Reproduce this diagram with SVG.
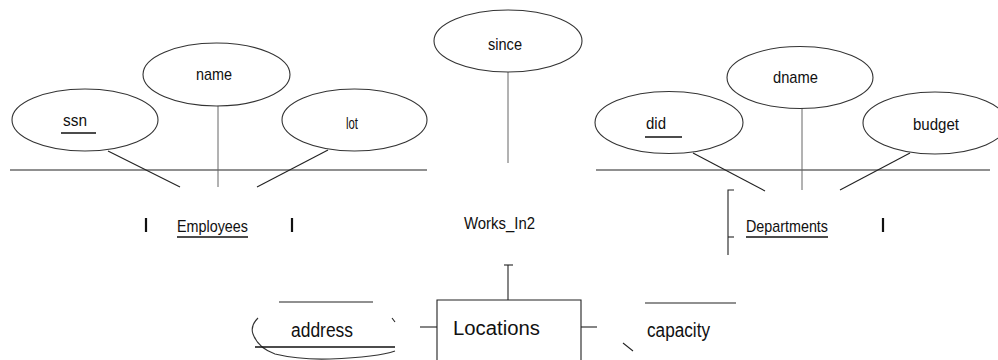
<svg xmlns="http://www.w3.org/2000/svg" width="998" height="360" viewBox="0 0 998 360">
<style>
.attr{fill:none;stroke:#333;stroke-width:1.1}
.t{font-family:"Liberation Sans",Arial,sans-serif;font-size:17px;fill:#111}
.tb{font-family:"Liberation Sans",Arial,sans-serif;font-size:20px;fill:#111}
.ln{stroke:#222;stroke-width:1.1;fill:none}
.lg{stroke:#666;stroke-width:1;fill:none}
.ul{stroke:#111;stroke-width:1.3}
.bar{stroke:#111;stroke-width:2.2}
</style>
<rect width="998" height="360" fill="#fff"/>
<g id="connectors">
<line class="ln" x1="10" y1="170" x2="427" y2="170"/>
<line class="ln" x1="596" y1="170" x2="990" y2="170"/>
<line class="ln" x1="108" y1="151" x2="180" y2="187"/>
<line class="lg" x1="218" y1="106" x2="218" y2="187"/>
<line class="ln" x1="328" y1="150" x2="257" y2="187"/>
<line class="lg" x1="508" y1="72" x2="508" y2="163"/>
<line class="ln" x1="693" y1="153" x2="765" y2="191"/>
<line class="lg" x1="802" y1="108" x2="802" y2="190"/>
<line class="ln" x1="910" y1="153" x2="840" y2="190"/>
<line class="ln" x1="508" y1="265" x2="508" y2="300"/>
<line class="ln" x1="504" y1="265" x2="513" y2="265"/>
<line class="ln" x1="420" y1="327" x2="437" y2="327"/>
<line class="ln" x1="581" y1="327" x2="597" y2="327"/>
<line class="ln" x1="623" y1="343" x2="633" y2="351"/>
</g>
<g id="ssn">
<ellipse class="attr" cx="85" cy="120" rx="73" ry="31"/>
<text class="t" x="63" y="126" textLength="24" lengthAdjust="spacingAndGlyphs">ssn</text>
<line class="ul" x1="61" y1="133" x2="96" y2="133"/>
</g>
<g id="name">
<ellipse class="attr" cx="216.5" cy="74.5" rx="73.5" ry="31.5"/>
<text class="t" x="196" y="80" textLength="36" lengthAdjust="spacingAndGlyphs">name</text>
</g>
<g id="lot">
<ellipse class="attr" cx="354.5" cy="120" rx="72.5" ry="31"/>
<text class="t" x="346" y="129" textLength="12" lengthAdjust="spacingAndGlyphs">lot</text>
</g>
<g id="since">
<ellipse class="attr" cx="508" cy="41" rx="74" ry="31"/>
<text class="t" x="488" y="50" textLength="34" lengthAdjust="spacingAndGlyphs">since</text>
</g>
<g id="did">
<ellipse class="attr" cx="669" cy="122.5" rx="74" ry="31"/>
<text class="t" x="646" y="129" textLength="20" lengthAdjust="spacingAndGlyphs">did</text>
<line class="ul" x1="645" y1="137" x2="682" y2="137"/>
</g>
<g id="dname">
<ellipse class="attr" cx="800" cy="77.5" rx="73" ry="31"/>
<text class="t" x="773" y="83" textLength="45" lengthAdjust="spacingAndGlyphs">dname</text>
</g>
<g id="budget">
<ellipse class="attr" cx="935" cy="123" rx="72" ry="31"/>
<text class="t" x="913" y="130" textLength="46" lengthAdjust="spacingAndGlyphs">budget</text>
</g>
<g id="Employees">
<line class="bar" x1="146" y1="218" x2="146" y2="232"/>
<text class="t" x="177" y="232" textLength="71" lengthAdjust="spacingAndGlyphs">Employees</text>
<line class="ul" x1="177" y1="237" x2="248" y2="237"/>
<line class="bar" x1="292" y1="218" x2="292" y2="232"/>
</g>
<g id="Works_In2">
<text class="t" x="464" y="229" textLength="71" lengthAdjust="spacingAndGlyphs">Works_In2</text>
</g>
<g id="Departments">
<polyline class="ln" points="734,190 728,190 728,255"/>
<line class="ln" x1="728" y1="237" x2="734" y2="237"/>
<text class="t" x="746" y="232" textLength="82" lengthAdjust="spacingAndGlyphs">Departments</text>
<line class="ul" x1="746" y1="237" x2="828" y2="237"/>
<line class="bar" x1="883" y1="218" x2="883" y2="232"/>
</g>
<g id="address">
<line class="ln" x1="279" y1="302" x2="373" y2="302"/>
<path class="attr" d="M258,318 Q250,326 253,334 Q258,348 275,354 Q300,360 330,359 Q378,357 395,351"/>
<line class="ln" x1="392" y1="318" x2="395" y2="322"/>
<text class="tb" x="291" y="337" textLength="62" lengthAdjust="spacingAndGlyphs">address</text>
<line class="ul" x1="255" y1="347" x2="395" y2="347"/>
</g>
<g id="Locations">
<polyline class="ln" points="437,360 437,300 581,300 581,360"/>
<text class="tb" x="453" y="335" textLength="87" lengthAdjust="spacingAndGlyphs">Locations</text>
</g>
<g id="capacity">
<line class="ln" x1="645" y1="303" x2="736" y2="303"/>
<text class="tb" x="647" y="337" textLength="63" lengthAdjust="spacingAndGlyphs">capacity</text>
</g>
</svg>
